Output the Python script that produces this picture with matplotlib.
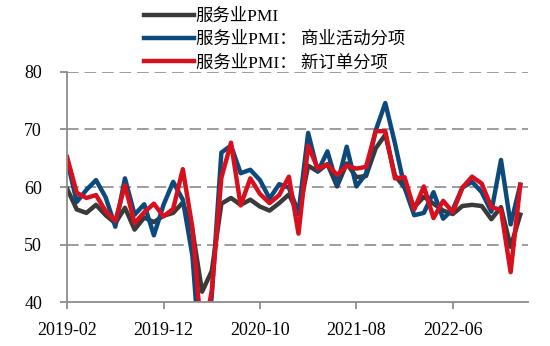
import matplotlib.pyplot as plt
import numpy as np

# ISM服务业PMI，2019-02 至 2023-01
months = ['2019-02', '2019-03', '2019-04', '2019-05', '2019-06', '2019-07', '2019-08', '2019-09',
          '2019-10', '2019-11', '2019-12', '2020-01', '2020-02', '2020-03', '2020-04', '2020-05',
          '2020-06', '2020-07', '2020-08', '2020-09', '2020-10', '2020-11', '2020-12', '2021-01',
          '2021-02', '2021-03', '2021-04', '2021-05', '2021-06', '2021-07', '2021-08', '2021-09',
          '2021-10', '2021-11', '2021-12', '2022-01', '2022-02', '2022-03', '2022-04', '2022-05',
          '2022-06', '2022-07', '2022-08', '2022-09', '2022-10', '2022-11', '2022-12', '2023-01']

pmi = [59.7, 56.1, 55.5, 56.9, 55.1, 53.7, 56.4, 52.6, 54.7, 53.9, 55.0, 55.5,
       57.3, 52.5, 41.8, 45.4, 57.1, 58.1, 56.9, 57.8, 56.6, 55.9, 57.2, 58.7,
       55.3, 63.7, 62.7, 64.0, 60.1, 64.1, 61.7, 61.9, 66.7, 69.1, 62.0, 59.9,
       56.5, 58.3, 57.1, 55.9, 55.3, 56.7, 56.9, 56.7, 54.4, 56.5, 49.6, 55.2]

business = [64.7, 57.4, 59.5, 61.2, 58.2, 53.1, 61.5, 55.2, 57.0, 51.6, 56.9, 60.9,
            57.8, 48.0, 26.0, 41.0, 66.0, 67.2, 62.4, 63.0, 61.2, 58.0, 60.5, 59.9,
            55.5, 69.4, 62.7, 66.2, 60.4, 67.0, 60.1, 62.3, 69.8, 74.6, 67.6, 59.9,
            55.1, 55.5, 59.1, 54.5, 56.1, 59.9, 60.9, 59.1, 55.7, 64.7, 53.5, 60.4]

new_orders = [65.2, 59.0, 58.1, 58.6, 55.8, 54.1, 60.3, 53.7, 55.6, 57.1, 54.9, 56.2,
              63.1, 52.9, 32.9, 41.9, 61.6, 67.7, 56.8, 61.5, 58.8, 57.2, 58.6, 61.8,
              51.9, 67.2, 63.2, 63.9, 62.1, 63.7, 63.2, 63.5, 69.7, 69.7, 61.5, 61.7,
              56.1, 60.1, 54.6, 57.6, 55.6, 59.9, 61.8, 60.6, 56.5, 56.0, 45.2, 60.4]

tick_idx = [0, 10, 20, 30, 40]

x = np.arange(len(months))

fig = plt.figure(figsize=(5.5, 3.46), dpi=100)
ax = fig.add_axes([0.122, 0.127, 0.838, 0.665])

ax.plot(x, pmi, color='#3a3a3a', lw=3.2, label='服务业PMI')
ax.plot(x, business, color='#0d4a7c', lw=3.2, label='服务业PMI： 商业活动分项')
ax.plot(x, new_orders, color='#d8101e', lw=3.2, label='服务业PMI： 新订单分项')

ax.set_ylim(40, 80)
ax.set_yticks([40, 50, 60, 70, 80])
ax.set_xlim(0, 47.8)
ax.set_xticks(tick_idx)
ax.set_xticklabels([months[i] for i in tick_idx])

for y in [50, 60, 70, 80]:
    ax.axhline(y, color='#8c8c8c', lw=1.2, linestyle=(0, (7, 3.5)), zorder=0)

for s in ['top', 'right']:
    ax.spines[s].set_visible(False)
for s in ['left', 'bottom']:
    ax.spines[s].set_color('#8c8c8c')
    ax.spines[s].set_linewidth(1.3)

ax.tick_params(axis='both', colors='#8c8c8c', length=5, width=1.3, labelcolor='black',
               labelsize=13)
ax.tick_params(axis='y', pad=13)
ax.tick_params(axis='x', pad=9)
for lab in ax.get_xticklabels() + ax.get_yticklabels():
    lab.set_family('Liberation Serif')

fig.legend(loc='upper left', bbox_to_anchor=(0.262, 0.975), frameon=False,
           prop={'family': ['Liberation Serif', 'Noto Sans CJK SC'], 'size': 12.5},
           handlelength=2.9, handletextpad=0.08, labelspacing=0.41, borderaxespad=0,
           borderpad=0)

fig.savefig('out.png', dpi=100)
